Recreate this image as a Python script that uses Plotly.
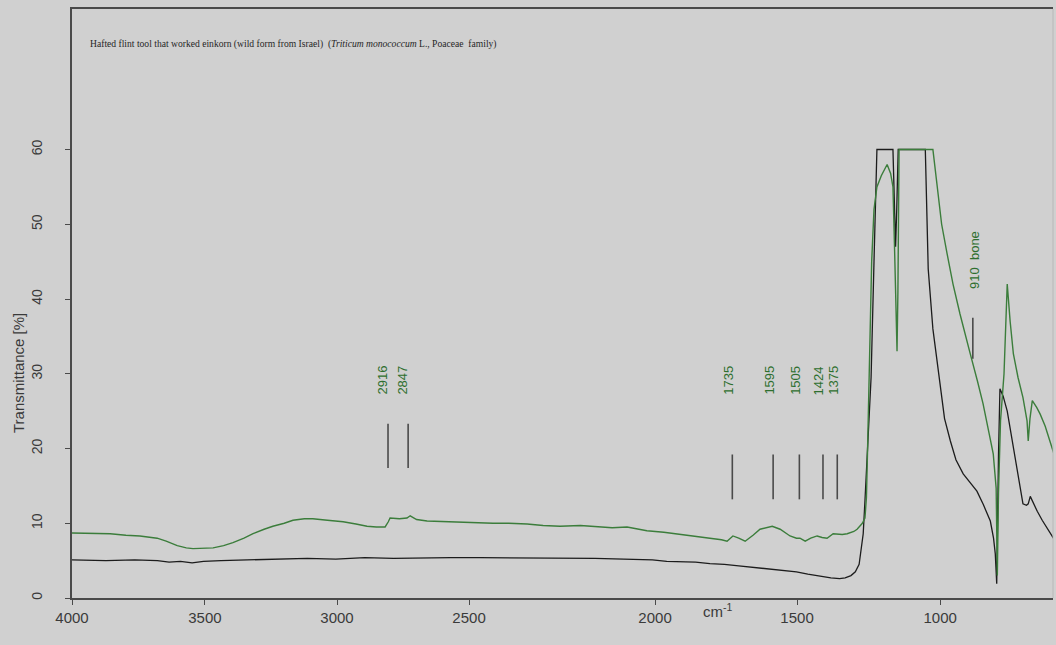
import plotly.graph_objects as go

# IR transmittance spectra (wavenumber in cm-1, transmittance in %)
green_wn = [4000, 3924, 3869, 3815, 3767, 3708, 3677, 3639, 3608, 3585, 3549, 3516, 3480, 3448,
            3410, 3379, 3341, 3311, 3272, 3242, 3203, 3174, 3124, 3070, 3026, 2988, 2956, 2926,
            2915, 2909, 2877, 2851, 2840, 2818, 2782, 2720, 2669, 2611, 2556, 2502, 2439, 2384,
            2326, 2256, 2206, 2147, 2096, 2058, 2028, 1970, 1924, 1871, 1812, 1772, 1753, 1733,
            1713, 1691, 1664, 1640, 1598, 1571, 1537, 1515, 1503, 1485, 1466, 1444, 1427, 1410,
            1389, 1358, 1341, 1318, 1307, 1289, 1280, 1275, 1271, 1265, 1257, 1249, 1239, 1224,
            1204, 1192, 1184, 1178, 1170, 1167, 1163, 1047, 1033, 1017, 998, 978, 954, 933, 919,
            894, 875, 854, 840, 830, 826, 822, 815, 803, 792, 782, 771, 755, 738, 724, 720, 714,
            706, 691, 679, 662, 645, 627]
green_t = [8.7, 8.6, 8.6, 8.4, 8.3, 8.0, 7.6, 7.0, 6.7, 6.6, 6.6, 6.7, 7.0, 7.4,
           8.0, 8.6, 9.2, 9.6, 10.0, 10.4, 10.6, 10.6, 10.4, 10.2, 9.9, 9.6, 9.5, 9.5,
           10.2, 10.7, 10.6, 10.7, 11.0, 10.5, 10.3, 10.2, 10.2, 10.1, 10.0, 10.0, 9.9, 9.7,
           9.6, 9.7, 9.6, 9.4, 9.5, 9.2, 9.0, 8.8, 8.6, 8.3, 8.0, 7.8, 7.6, 8.3,
           8.0, 7.6, 8.4, 9.2, 9.6, 9.2, 8.3, 8.0, 8.0, 7.6, 8.0, 8.3, 8.1, 8.0,
           8.6, 8.5, 8.6, 8.9, 9.2, 10.0, 10.7, 13.4, 20, 30, 45, 52, 55, 56.5,
           58, 56.8, 55, 46, 33, 41, 60, 60, 55, 50, 46, 42, 38, 35, 32.7,
           29, 26, 22, 19.3, 14.7, 3.0, 14, 23.7, 30, 42, 37, 32.7, 29.5, 26.8, 23.7, 21, 24,
           26.4, 25.5, 24.6, 23, 21, 18.7]

black_wn = [4000, 3884, 3785, 3707, 3667, 3628, 3588, 3549, 3489, 3410, 3292, 3193, 3095, 2996,
            2897, 2799, 2700, 2601, 2502, 2404, 2305, 2206, 2108, 2009, 1960, 1910, 1861, 1812,
            1762, 1713, 1664, 1614, 1565, 1515, 1476, 1446, 1417, 1397, 1367, 1348, 1328, 1313,
            1300, 1286, 1280, 1271, 1259, 1249, 1239, 1184, 1178, 1175, 1171, 1166, 1073, 1063,
            1047, 1022, 1007, 987, 968, 943, 918, 896, 874, 850, 839, 833, 828, 825, 822, 817,
            806, 792, 775, 758, 738, 726, 720, 713, 701, 689, 672, 655, 627]
black_t = [5.1, 5.0, 5.1, 5.0, 4.8, 4.9, 4.7, 4.9, 5.0, 5.1, 5.2, 5.3, 5.2, 5.4,
           5.3, 5.4, 5.4, 5.4, 5.4, 5.3, 5.3, 5.3, 5.2, 5.1, 4.9, 4.8, 4.8, 4.6,
           4.5, 4.3, 4.1, 3.9, 3.7, 3.5, 3.2, 3.0, 2.8, 2.7, 2.6, 2.7, 3.0, 3.5,
           4.5, 8.6, 13, 20.6, 29.5, 45, 60, 60, 52, 47, 52, 60, 60, 44,
           36, 28, 24, 21, 18.5, 16.6, 15.3, 14.3, 12.5, 10.3, 8, 5.9, 1.9, 12, 19, 28,
           27, 25, 21, 17, 12.6, 12.4, 12.6, 13.6, 12.5, 11.6, 10.4, 9.4, 7.6]

# Band assignments marked above the spectra
band_wn = [2916, 2847, 1735, 1595, 1505, 1424, 1375, 910]
band_text = ["2916", "2847", "1735", "1595", "1505", "1424", "1375", "910  bone"]

# wavenumber scale: tick labels and the points where the instrument printed them
x_tick_text = ["4000", "3500", "3000", "2500", "2000", "1500", "1000"]
x_tick_at = [4000, 3544, 3091, 2638, 2000, 1513, 1022]
y_ticks = [0, 10, 20, 30, 40, 50, 60]

title_text = ("Hafted flint tool that worked einkorn (wild form from Israel)  "
              "(<i>Triticum monococcum</i> L., Poaceae  family)")

BG = "#d0d0d0"
AXIS = "#4a4a4a"
TICK_FONT = "#3a3a3a"
LABEL_GREEN = "#2e6f2e"
SANS = "Liberation Sans, Arial"

fig = go.Figure()
fig.add_trace(go.Scatter(x=black_wn, y=black_t, mode="lines",
                         line=dict(color="#1c1c1c", width=1.3), hoverinfo="skip"))
fig.add_trace(go.Scatter(x=green_wn, y=green_t, mode="lines",
                         line=dict(color="#3b7d3b", width=1.4), hoverinfo="skip"))

# vertical band markers: (bottom, top) of each stroke and label centre, in % units
shapes = []
annotations = []
for wn, txt in zip(band_wn, band_text):
    if wn > 2500:
        y0, y1, ylab, dx = 17.4, 23.3, 29.1, -6
    elif wn > 1000:
        y0, y1, ylab, dx = 13.2, 19.2, 29.1, -4
    else:
        y0, y1, ylab, dx = 32.0, 37.5, 45.2, 1
    shapes.append(dict(type="line", xref="x", yref="y", x0=wn, x1=wn, y0=y0, y1=y1,
                       line=dict(color="#4a4a4a", width=1.6)))
    annotations.append(dict(xref="x", yref="y", x=wn, y=ylab, text=txt, textangle=-90,
                            showarrow=False, xshift=dx,
                            font=dict(family=SANS, size=13, color=LABEL_GREEN)))

# faint right edge of the frame
shapes.append(dict(type="line", xref="paper", yref="paper", x0=1, x1=1, y0=0, y1=1,
                   line=dict(color="#b8b8b8", width=1)))

annotations.append(dict(xref="paper", yref="paper", x=0.0163, y=0.9406, xanchor="left",
                        yanchor="middle", text=title_text, showarrow=False,
                        font=dict(family="Liberation Serif, Times New Roman", size=9.6,
                                  color="#262626")))
annotations.append(dict(xref="paper", yref="paper", x=-0.055, y=0.382, text="Transmittance [%]",
                        textangle=-90, showarrow=False, xanchor="center", yanchor="middle",
                        font=dict(family=SANS, size=15, color=TICK_FONT)))
annotations.append(dict(xref="paper", yref="paper", x=0.6585, y=-0.022, text="cm<sup>-1</sup>",
                        showarrow=False, xanchor="center", yanchor="middle",
                        font=dict(family=SANS, size=15, color=TICK_FONT)))

fig.update_layout(
    width=1056, height=645,
    margin=dict(l=72, r=3, t=9, b=47),
    paper_bgcolor=BG, plot_bgcolor=BG,
    showlegend=False,
    shapes=shapes, annotations=annotations,
    xaxis=dict(range=[4000, 635], tickvals=x_tick_at, ticktext=x_tick_text,
               ticks="outside", ticklen=5,
               tickcolor=AXIS, showline=True, linecolor=AXIS, linewidth=1.6, mirror=True,
               showgrid=False, zeroline=False,
               tickfont=dict(family=SANS, size=15, color=TICK_FONT)),
    yaxis=dict(range=[0, 78.8], tickvals=y_ticks, tickangle=-90, ticks="outside", ticklen=5,
               tickcolor=AXIS, showline=True, linecolor=AXIS, linewidth=1.6,
               showgrid=False, zeroline=False, ticklabelstandoff=18,
               tickfont=dict(family=SANS, size=14, color=TICK_FONT)),
)

fig.write_html("out.html")
